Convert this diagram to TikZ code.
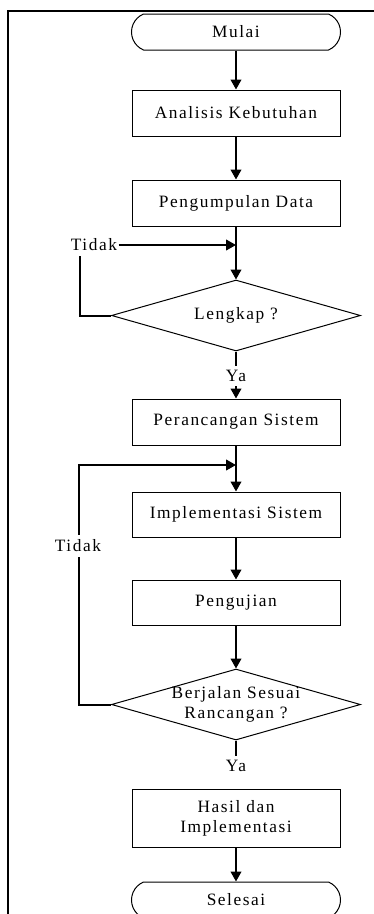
\documentclass[tikz,border=0pt]{standalone}
\usepackage{fontspec}
\setmainfont{Liberation Serif}[LetterSpace=9]
\usetikzlibrary{arrows.meta,shapes.geometric,shapes.misc}

\begin{document}
\begin{tikzpicture}[x=0.75pt,y=0.75pt,yscale=-1,xscale=1,
    font=\fontsize{13}{15}\selectfont,
    terminal/.style={draw, line width=0.75pt, rounded rectangle, rounded rectangle arc length=135, minimum width=156.75pt, minimum height=27pt, inner sep=0pt},
    process/.style={draw, line width=0.75pt, rectangle, minimum width=156pt, minimum height=34.5pt, align=center, inner sep=0pt},
    decision/.style={draw, line width=0.75pt, diamond, minimum width=186.75pt, minimum height=53.25pt, inner sep=0pt},
    flow/.style={line width=1.5pt, -{Triangle[length=7.5pt,width=8pt]}},
    plain/.style={line width=1.5pt},
    answer/.style={inner xsep=1pt}]
    \useasboundingbox (0,0) rectangle (374,914);

    %Frame
    \draw[line width=1.1pt] (8,914) -- (8,11) -- (374,11);

    %Shapes
    \node[terminal] (mulai) at (236,32) {Mulai};
    \node[process] (analisis) at (236,113) {Analisis Kebutuhan};
    \node[process] (kumpul) at (236,203) {Pengumpulan Data};
    \node[decision, label={center:Lengkap ?}] (lengkap) at (236,315.5) {};
    \node (ya1) at (236,376) {Ya};
    \node[process] (rancang) at (236,422) {Perancangan Sistem};
    \node[process, minimum height=33.75pt] (implementasi) at (236,514.5) {Implementasi Sistem};
    \node[process, minimum height=33.75pt] (uji) at (236,602.5) {Pengujian};
    \node[decision, label={[align=center]center:Berjalan Sesuai\\Rancangan ?}] (sesuai) at (236,704.5) {};
    \node (ya2) at (236,766) {Ya};
    \node[process, minimum height=43.5pt] (hasil) at (236,818) {Hasil dan\\Implementasi};
    \node[terminal] (selesai) at (236,900) {Selesai};

    %Flow
    \draw[flow] (mulai.south) -- (analisis.north);
    \draw[flow] (analisis.south) -- (kumpul.north);
    \draw[flow] (kumpul.south) -- (lengkap.north);
    \draw[plain] (lengkap.south) -- (ya1.north);
    \draw[flow] (ya1.south) -- (rancang.north);
    \draw[flow] (rancang.south) -- (implementasi.north);
    \draw[flow] (implementasi.south) -- (uji.north);
    \draw[flow] (uji.south) -- (sesuai.north);
    \draw[plain] (sesuai.south) -- (ya2.north);
    \draw[flow] (hasil.south) -- (selesai.north);

    %Loops
    \node[answer] (tidak1) at (94,245) {Tidak};
    \draw[plain] (lengkap.west) -| ([xshift=-10.5pt]tidak1.south);
    \draw[flow] (tidak1.east) -- (tidak1.east -| kumpul.south);
    \coordinate (sudut2) at (79,465);
    \draw[flow] (sesuai.west) -| (sudut2) -- (sudut2 -| rancang.south);
    \node[answer, fill=white] (tidak2) at (78,546) {Tidak};
\end{tikzpicture}
\end{document}
